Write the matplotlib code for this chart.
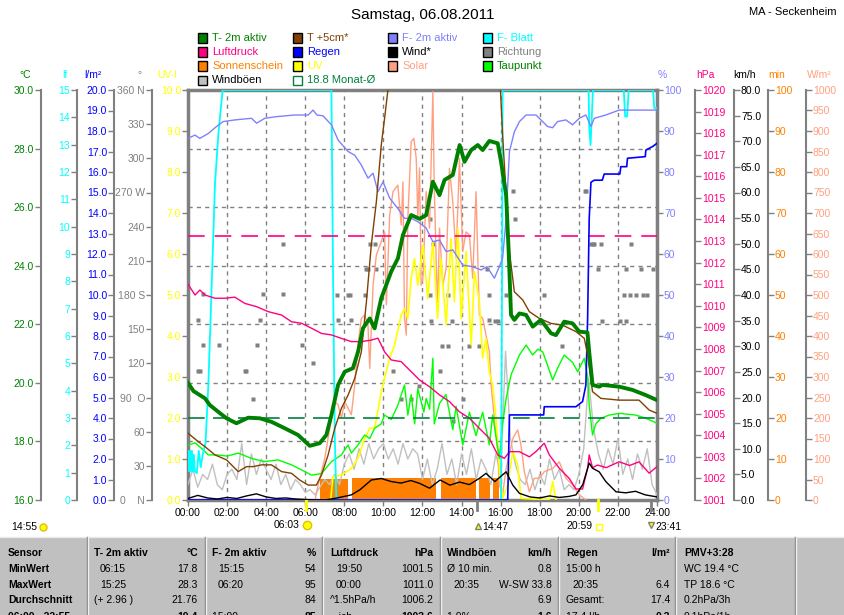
import matplotlib
matplotlib.use('Agg')
import matplotlib.pyplot as plt
from matplotlib.patches import Rectangle

plt.rcParams['font.family'] = ['Liberation Sans', 'DejaVu Sans']

# ---------------- data ----------------
t2m_t = [0, 0.28, 0.87, 1.12, 1.55, 1.97, 2.48, 3.08, 3.68, 4.27, 4.95, 5.63, 6.23, 6.74, 7.08, 7.34, 7.68, 8.02,
         8.44, 8.7, 8.95, 9.3, 9.55, 9.89, 10.4, 10.74, 11.0, 11.42, 11.85, 12.19, 12.53, 12.87, 13.13, 13.55, 13.9,
         14.15, 14.49, 14.83, 15.08, 15.42, 15.85, 16.02, 16.28, 16.41, 16.53, 16.7, 16.96, 17.3, 17.64, 18.06, 18.58,
         18.83, 19.25, 19.68, 20.02, 20.44, 20.53, 20.7, 21.04, 21.21, 22.06, 22.74, 23.43, 24.0]
t2m_v = [20.0, 19.72, 19.47, 19.24, 19.01, 18.79, 18.62, 18.81, 18.79, 18.67, 18.45, 18.22, 17.85, 17.94, 18.22, 18.9,
         19.93, 20.38, 20.5, 21.06, 21.86, 22.2, 21.86, 22.89, 23.8, 24.25, 25.05, 25.73, 25.6, 25.73, 26.87, 26.41,
         26.93, 27.1, 28.12, 27.55, 27.95, 28.12, 27.95, 28.26, 28.18, 27.55, 26.41, 24.48, 22.32, 22.15, 22.37, 22.32,
         21.92, 22.15, 21.69, 21.63, 22.09, 22.03, 21.75, 21.72, 21.06, 19.93, 19.87, 19.93, 19.87, 19.76, 19.58, 19.41]

t5_t = [0, 0.53, 0.87, 1.38, 1.97, 2.57, 3.0, 3.34, 3.76, 4.27, 4.79, 5.3, 5.72, 6.15, 6.57, 6.83, 7.17, 7.51, 7.85,
        8.19, 8.53, 8.87, 9.13, 9.38, 9.64, 9.89, 10.06, 10.23, 10.8, 12.0, 13.0, 14.0, 15.0, 15.8, 15.99, 16.1, 16.28,
        16.45, 16.7, 17.13, 17.47, 17.98, 18.58, 19.17, 19.85, 20.28, 20.45, 20.7, 21.13, 22.06, 23.08, 23.6, 24.0]
t5_v = [18.28, 17.99, 17.82, 17.54, 17.37, 16.97, 17.14, 17.14, 17.2, 17.2, 16.97, 16.91, 16.68, 16.51, 16.51, 16.85,
        17.54, 18.45, 19.13, 19.58, 20.15, 21.06, 22.77, 24.71, 26.19, 28.12, 29.03, 30.0, 32.5, 35.0, 36.5, 37.0, 36.0,
        33.0, 30.0, 28.46, 26.4, 24.48, 23.11, 22.83, 22.43, 22.2, 22.03, 21.97, 21.75, 21.52, 20.95, 19.7, 19.47,
        19.41, 19.41, 19.07, 18.96]

f2_t = [0, 0.36, 0.6, 1.04, 1.46, 1.8, 2.4, 3.25, 3.51, 3.93, 4.53, 5.46, 6.15, 6.4, 6.6, 6.91, 7.34, 7.68, 8.19, 8.53,
        8.87, 9.21, 9.47, 9.72, 9.98, 10.32, 10.74, 11.08, 11.42, 11.76, 12.19, 12.53, 12.87, 13.21, 13.55, 14.06,
        14.57, 15.0, 15.3, 15.68, 15.93, 16.1, 16.28, 16.36, 16.45, 16.7, 16.96, 17.3, 17.81, 18.4, 18.66, 18.91,
        19.34, 19.68, 20.02, 20.36, 20.62, 20.79, 21.38, 22.06, 24.0]
f2_v = [88.2, 89.0, 88.2, 89.4, 91.1, 92.3, 92.7, 93.1, 91.9, 93.1, 93.5, 93.9, 93.9, 95.1, 93.9, 93.7, 91.5, 87.8,
        85.0, 84.1, 81.7, 78.5, 79.7, 75.2, 77.6, 73.6, 71.1, 68.7, 68.7, 67.9, 66.3, 63.0, 63.4, 60.6, 61.0, 57.3,
        56.9, 56.1, 56.9, 54.1, 56.9, 59.0, 68.7, 76.8, 85.0, 89.8, 92.3, 93.9, 93.9, 91.1, 90.8, 92.3, 92.7, 91.5,
        93.1, 93.9, 91.1, 93.1, 93.9, 95.1, 95.1]

fb_t = [0, 0.05, 0.1, 0.15, 0.2, 0.25, 0.3, 0.35, 0.45, 0.55, 0.65, 0.75, 0.9, 1.04, 1.21, 1.38, 1.55, 1.69, 1.77,
        7.34, 7.42, 7.51, 7.59, 16.02, 16.07, 16.1, 20.5, 20.53, 20.6, 20.66, 20.72, 22.3, 22.37, 22.47, 22.55, 23.8,
        23.86, 24.0]
fb_v = [1.8, 1.05, 1.8, 1.05, 1.8, 1.05, 1.65, 1.05, 0.98, 1.8, 1.2, 1.65, 2.1, 4.2, 7.8, 11.55, 13.35, 14.4, 15.0,
        15.0, 8.4, 2.4, 0.0, 0.0, 7.8, 15.0, 15.0, 13.65, 12.99, 13.95, 15.0, 15.0, 14.03, 14.03, 15.0, 15.0, 14.34,
        14.34]

lp_t = [0, 0.36, 0.61, 0.87, 1.38, 1.89, 2.4, 2.91, 3.51, 4.1, 4.79, 5.3, 5.81, 6.32, 6.83, 7.34, 7.85, 8.36, 8.87,
        9.38, 9.72, 10.06, 10.4, 10.91, 11.42, 11.85, 12.36, 12.87, 13.38, 13.89, 14.4, 14.91, 15.42, 15.85, 16.19,
        16.45, 16.96, 17.47, 17.8, 18.23, 18.49, 19.0, 19.51, 19.85, 20.19, 20.45, 20.53, 20.7, 20.96, 21.4, 22.06,
        22.6, 23.08, 23.6, 24.0]
lp_v = [1011.0, 1010.5, 1010.73, 1010.5, 1010.35, 1010.35, 1010.4, 1010.11, 1009.96, 1009.73, 1009.57, 1009.26,
        1009.19, 1008.96, 1008.72, 1008.65, 1008.49, 1008.34, 1008.34, 1008.41, 1008.5, 1007.87, 1007.49, 1007.41,
        1006.95, 1006.56, 1006.25, 1005.87, 1005.56, 1005.09, 1004.79, 1004.32, 1003.86, 1003.09, 1002.93, 1003.24,
        1003.24, 1003.0, 1003.24, 1003.63, 1003.09, 1002.47, 1002.0, 1001.51, 1001.51, 1002.47, 1003.09, 1002.5,
        1002.62, 1002.5, 1002.77, 1002.6, 1002.77, 1002.24, 1002.55]
normal_pressure = 1013.25

rg_t = [0, 16.36, 16.45, 18.2, 18.23, 19.85, 20.19, 20.36, 20.45, 20.53, 20.62, 20.79, 21.2, 21.3, 22.1, 22.15, 22.45,
        22.49, 23.4, 23.43, 23.77, 24.0]
rg_v = [0, 0, 4.15, 4.15, 4.55, 4.55, 4.8, 5.6, 8.86, 13.7, 15.5, 15.6, 15.6, 15.9, 15.9, 16.26, 16.26, 16.67, 16.75,
        17.07, 17.24, 17.4]

wd_t = [0, 0.5, 1, 1.5, 2, 2.5, 3, 3.5, 4, 4.5, 5, 5.5, 6, 6.5, 7, 7.5, 8, 8.36, 8.8, 9.38, 9.89, 10.4, 10.9, 11.4,
        11.85, 12.36, 12.9, 13.4, 13.9, 14.4, 14.9, 15.25, 15.7, 16.28, 16.62, 16.96, 17.5, 18.0, 18.5, 19.0, 19.5,
        19.85, 20.2, 20.53, 20.7, 21.04, 21.38, 21.9, 22.4, 22.9, 23.4, 24.0]
wd_v = [0.3, 0.9, 0.4, 0.2, 0.5, 0.3, 0.8, 1.2, 0.6, 0.3, 0.4, 0.2, 0.1, 0.0, 0.0, 0.3, 0.7, 1.0, 2.0, 3.9, 4.2, 3.6,
        3.3, 3.8, 3.25, 2.3, 3.9, 2.9, 3.5, 3.0, 4.2, 5.2, 3.6, 5.5, 2.9, 1.3, 0.6, 0.4, 0.8, 0.5, 0.7, 1.0, 3.0, 7.2,
        6.2, 5.5, 3.6, 1.6, 1.4, 1.7, 1.0, 0.6]

gu_t = [0, 0.25, 0.5, 0.75, 1.0, 1.25, 1.5, 1.75, 2.0, 2.25, 2.5, 2.75, 3.0, 3.25, 3.5, 3.75, 4.0, 4.25, 4.5, 4.75,
        5.0, 5.25, 5.5, 5.75, 6.0, 6.25, 6.5, 6.75, 7.0, 7.25, 7.5, 7.75, 8.0, 8.25, 8.5, 8.75, 9.0, 9.25, 9.5, 9.75,
        10.0, 10.25, 10.5, 10.75, 11.0, 11.25, 11.5, 11.75, 12.0, 12.25, 12.5, 12.75, 13.0, 13.25, 13.5, 13.75, 14.0,
        14.25, 14.5, 14.75, 15.0, 15.25, 15.5, 15.75, 16.0, 16.25, 16.5, 16.75, 17.0, 17.25, 17.5, 17.75, 18.0, 18.25,
        18.5, 18.75, 19.0, 19.25, 19.5, 19.75, 20.0, 20.25, 20.5, 20.75, 21.0, 21.25, 21.5, 21.75, 22.0, 22.25, 22.5,
        22.75, 23.0, 23.25, 23.5, 23.75, 24.0]
gu_v = [3, 6, 2.5, 5, 4, 7, 3, 2, 5, 6, 4, 11, 3, 9, 5, 8, 6, 4, 7, 3,
        5, 2, 4, 3, 1.5, 2, 1, 2.5, 4, 3, 5, 3, 7, 9, 6, 10, 7, 11, 8, 10,
        11, 8, 10, 7, 11, 8, 10, 9, 4, 8, 3, 6, 11, 5, 8, 3, 9,
        5, 10, 4, 8, 6, 3, 9, 5, 29, 12, 7, 4, 3, 6, 2, 5, 3,
        8, 4, 6, 2, 3, 2, 5, 10, 23.7, 14, 9, 6, 10, 7, 12, 5, 8,
        4, 9, 6, 10, 3, 1]

tp_t = [0, 0.36, 0.7, 1.04, 1.5, 2.0, 2.57, 3.25, 3.93, 4.6, 5.3, 5.98, 6.32, 6.83, 7.34, 7.85, 8.19, 8.36, 8.7, 9.04,
        9.3, 9.55, 9.89, 10.06, 10.4, 10.74, 11.08, 11.25, 11.42, 11.6, 11.76, 12.07, 12.19, 12.36, 12.53, 12.6, 12.87,
        13.2, 13.55, 13.72, 14.06, 14.4, 14.74, 15.08, 15.42, 15.59, 15.93, 16.1, 16.28, 16.53, 16.96, 17.3, 17.64,
        17.9, 18.15, 18.4, 18.66, 18.91, 19.25, 19.68, 19.94, 20.28, 20.45, 20.53, 20.7, 20.87, 21.13, 21.55, 22.06,
        22.9, 23.4, 24.0]
tp_v = [17.88, 17.95, 17.76, 17.54, 17.54, 17.5, 17.6, 17.42, 17.31, 17.37, 17.2, 16.97, 16.85, 16.9, 17.31, 17.54,
        17.88, 17.6, 17.88, 18.22, 18.1, 18.45, 18.6, 18.9, 18.75, 19.24, 19.93, 18.9, 19.6, 18.6, 19.8, 19.0, 19.47,
        19.1, 20.84, 18.6, 19.3, 19.6, 18.4, 19.2, 17.88, 19.0, 18.2, 19.0, 17.88, 18.9, 17.42, 18.6, 19.47, 20.27,
        20.95, 21.29, 20.95, 21.15, 21.06, 20.6, 20.1, 20.5, 20.95, 20.7, 20.38, 20.84, 20.2, 19.24, 18.22, 18.6,
        18.79, 18.9, 18.96, 18.9, 18.8, 18.62]
month_mean = 18.8

so_t = [6.5, 6.66, 7.0, 7.34, 7.51, 7.68, 7.85, 8.02, 8.36, 8.53, 8.7, 8.87, 9.04, 9.21, 9.3, 9.47, 9.64, 9.89, 10.06,
        10.15, 10.32, 10.49, 10.74, 10.91, 11.0, 11.08, 11.17, 11.25, 11.42, 11.56, 11.68, 11.76, 11.85, 11.93, 12.02,
        12.19, 12.36, 12.53, 12.6, 12.77, 12.87, 13.04, 13.21, 13.38, 13.55, 13.72, 13.89, 14.06, 14.23, 14.4, 14.57,
        14.74, 14.91, 15.08, 15.25, 15.42, 15.51, 15.68, 15.85, 15.93, 16.1, 16.28, 16.62, 16.87, 17.04, 17.21, 17.47,
        17.72, 17.98, 18.23, 18.66, 19.0, 19.34, 19.68, 20.02, 20.36]
so_v = [0, 37, 102, 200, 240, 232, 200, 240, 208, 280, 378, 443, 451, 427, 321, 524, 598, 630, 654,
        476, 695, 752, 768, 671, 776, 443, 402, 687, 874, 882, 833, 687, 810, 524, 541,
        752, 663, 996, 768, 459, 663, 524, 565, 809, 727, 590, 833, 606, 654, 646, 541,
        752, 451, 443, 402, 362, 280, 199, 118, 37, 13, 77, 150, 171, 134, 69, 20,
        53, 53, 69, 77, 93, 53, 37, 13, 0]

uv_t = [7.3, 7.42, 7.85, 8.36, 8.7, 9.04, 9.3, 9.55, 9.89, 10.06, 10.32, 10.57, 10.91, 11.08, 11.25, 11.42, 11.59,
        11.76, 12.02, 12.27, 12.53, 12.77, 12.94, 13.21, 13.46, 13.63, 13.81, 13.98, 14.23, 14.49, 14.66, 14.91, 15.08,
        15.25, 15.42, 15.59, 15.76, 15.93, 16.1, 16.36, 16.62, 16.87, 17.04, 18.49, 18.66, 18.83]
uv_v = [0, 0.57, 0.61, 0.77, 1.02, 1.5, 1.75, 1.75, 2.64, 2.97, 3.46, 3.78, 4.51, 4.67, 4.43, 5.41, 5.89,
        5.24, 6.22, 4.92, 6.3, 4.43, 5.89, 4.27, 6.38, 4.84, 6.63, 4.43, 6.06, 3.78, 5.57, 4.84, 3.46,
        3.94, 3.13, 2.8, 1.99, 0.77, 0.04, 0.37, 1.18, 0.85, 0.04, 0, 0.45, 0]

sun_start = [6.74, 8.38, 12.97, 14.88, 15.63]
sun_end = [8.17, 12.7, 14.74, 15.46, 15.93]
sun_min = [5.2, 5.3, 5.3, 5.3, 5.3]

dir_t = [0.53, 0.78, 0.53, 0.61, 0.78, 1.6, 2.91, 2.98, 3.34, 3.51, 3.68, 3.85, 4.87, 4.87, 5.81, 6.4, 7.6, 7.68,
         8.19, 8.27, 8.36, 9.04, 9.13, 9.21, 9.3, 9.55, 9.64, 10.49, 10.91, 11.4, 11.8, 12.36, 12.36, 12.44, 12.52,
         12.87, 13.0, 13.28, 13.3, 13.5, 13.55, 14.06, 14.4, 14.9, 15.32, 15.42, 15.42, 15.7, 15.85, 16.28, 16.65,
         16.75, 18.2, 19.16, 20.3, 20.38, 20.62, 20.7, 20.8, 20.96, 21.13, 21.2, 22.1, 22.3, 22.4, 22.4, 22.6, 22.66,
         22.9, 23.2, 23.3, 23.5, 23.77]
dir_v = [158, 136, 113, 113, 181, 136, 113, 113, 89, 136, 158, 181, 225, 181, 136, 120, 180, 158,
         180, 180, 158, 180, 203, 203, 225, 225, 203, 113, 89, 89, 100, 247, 180, 157, 225,
         113, 135, 180, 135, 157, 69, 89, 135, 135, 203, 180, 158, 157, 157, 180, 271,
         247, 180, 135, 271, 271, 225, 225, 225, 203, 225, 157, 157, 180, 203, 157, 180, 225,
         180, 203, 180, 180, 203]

# ---------------- style ----------------
GRAY = '#808080'
C_T2 = '#008000'; C_T5 = '#804000'; C_F2 = '#8080FF'; C_FB = '#00FFFF'
C_LP = '#FF0080'; C_RG = '#0000FF'; C_WD = '#000000'; C_DIR = '#808080'
C_SUN = '#FF8000'; C_UV = '#FFFF00'; C_SO = '#FFA080'; C_TP = '#00FF00'
C_GU = '#C0C0C0'; C_MM = '#008040'

W_PX, H_PX = 845, 615
fig = plt.figure(figsize=(W_PX / 100, H_PX / 100), dpi=100)
fig.patch.set_facecolor('white')

def fx(x):
    return x / W_PX

def fy(y):
    return 1 - y / H_PX

X0, X1, Y0, Y1 = 188, 657, 90, 500
ax = fig.add_axes([fx(X0), fy(Y1), (X1 - X0) / W_PX, (Y1 - Y0) / H_PX])
ax.set_xlim(0, 24)
ax.set_ylim(0, 10)

def apos(px):
    return (px - X0) / (X1 - X0)

FS = 7.5

def disp_axis(ylim, px, side, ticks, labels, color):
    a = ax.twinx()
    a.set_xlim(0, 24)
    a.set_ylim(*ylim)
    for s in a.spines.values():
        s.set_visible(False)
    sp = a.spines[side]
    sp.set_visible(True)
    sp.set_position(('axes', apos(px)))
    sp.set_color(GRAY)
    sp.set_linewidth(1.5)
    if side == 'left':
        a.yaxis.tick_left()
    else:
        a.yaxis.tick_right()
    a.set_yticks(ticks)
    a.set_yticklabels(labels)
    a.tick_params(axis='y', color=GRAY, labelcolor=color, length=4, width=1, pad=1, labelsize=FS)
    return a

def data_axis(ylim):
    a = ax.twinx()
    a.set_xlim(0, 24)
    a.set_ylim(*ylim)
    for s in a.spines.values():
        s.set_visible(False)
    a.set_yticks([])
    a.patch.set_visible(False)
    return a

# main axis: UV scale on the frame
for s in ax.spines.values():
    s.set_color(GRAY)
    s.set_linewidth(2.5)
ax.set_yticks(range(0, 11))
ax.set_yticklabels([f'{v:.1f}' for v in range(0, 11)])
ax.tick_params(axis='y', color=GRAY, labelcolor=C_UV, length=4, width=1, pad=1, labelsize=FS)
ax.set_xticks(range(0, 25, 2))
ax.set_xticklabels([f'{h:02d}:00' for h in range(0, 25, 2)])
ax.tick_params(axis='x', color=GRAY, labelcolor='black', length=4, width=1, pad=2, labelsize=FS)
for h in range(2, 24, 2):
    ax.axvline(h, color=GRAY, lw=1, ls=(0, (3, 3)), zorder=0.5)

# display axes
at = disp_axis((16, 30), 40.7, 'left', list(range(16, 31, 2)), [f'{v:.1f}' for v in range(16, 31, 2)], C_T2)
for v in range(18, 30, 2):
    at.axhline(v, color=GRAY, lw=1, ls=(0, (3, 3)))
disp_axis((0, 15), 77, 'left', list(range(0, 16)), [str(v) for v in range(0, 16)], C_FB)
disp_axis((0, 20), 114, 'left', list(range(0, 21)), [f'{v:.1f}' for v in range(0, 21)], C_RG)
deg_ticks = list(range(0, 361, 30))
deg_names = {0: '0    N', 90: '90  O', 180: '180 S', 270: '270 W', 360: '360 N'}
disp_axis((0, 360), 152, 'left', deg_ticks, [deg_names.get(d, str(d)) for d in deg_ticks], GRAY)
disp_axis((0, 100), 657, 'right', list(range(0, 101, 10)), [str(v) for v in range(0, 101, 10)], C_F2)
disp_axis((1001, 1020), 695, 'right', list(range(1001, 1021)), [str(v) for v in range(1001, 1021)], C_LP)
disp_axis((0, 80), 734, 'right', list(range(0, 81, 5)), [f'{v:.1f}' for v in range(0, 81, 5)], 'black')
disp_axis((0, 100), 768, 'right', list(range(0, 101, 10)), [str(v) for v in range(0, 101, 10)], C_SUN)
disp_axis((0, 1000), 806, 'right', list(range(0, 1001, 50)), [str(v) for v in range(0, 1001, 50)], C_SO)

# data axes in drawing order
a_sun = data_axis((0, 100))
a_sun.bar(sun_start, sun_min, width=[e - s for s, e in zip(sun_start, sun_end)],
          align='edge', color=C_SUN, edgecolor='none')
a_dir = data_axis((0, 360))
a_dir.plot(dir_t, dir_v, ls='none', marker='s', ms=2.2, color=C_DIR, mec='none')
a_gu = data_axis((0, 80))
a_gu.plot(gu_t, gu_v, color=C_GU, lw=1)
a_so = data_axis((0, 1000))
a_so.plot(so_t, so_v, color=C_SO, lw=1)
a_uv = data_axis((0, 10))
a_uv.plot(uv_t, uv_v, color=C_UV, lw=1.2)
a_tp = data_axis((16, 30))
a_tp.plot(tp_t, tp_v, color=C_TP, lw=1)
a_fb = data_axis((0, 15))
a_fb.plot(fb_t, fb_v, color=C_FB, lw=1.3)
a_f2 = data_axis((0, 100))
a_f2.plot(f2_t, f2_v, color=C_F2, lw=1)
a_lp = data_axis((1001, 1020))
a_lp.axhline(normal_pressure, color=C_LP, lw=1.2, ls=(0, (10, 6)))
a_lp.plot(lp_t, lp_v, color=C_LP, lw=1)
a_rg = data_axis((0, 20))
a_rg.plot(rg_t, rg_v, color=C_RG, lw=1.2)
a_wd = data_axis((0, 80))
a_wd.plot(wd_t, wd_v, color=C_WD, lw=1)
a_t = data_axis((16, 30))
a_t.axhline(month_mean, color=C_MM, lw=1.2, ls=(0, (10, 5)))
a_t.plot(t5_t, t5_v, color=C_T5, lw=1)
a_t.plot(t2m_t, t2m_v, color=C_T2, lw=2.8)

# astronomical ticks below the axis
astro_t = [6.05, 20.983, 14.783, 23.683]
astro_c = ['#FFFF00', '#FFFF00', GRAY, GRAY]
for t, c in zip(astro_t, astro_c):
    ax.plot([t, t], [0, -0.024], transform=ax.get_xaxis_transform(), clip_on=False, color=c, lw=2, zorder=5)

# ---------------- texts ----------------
fig.text(fx(423), fy(15), 'Samstag, 06.08.2011', ha='center', va='center', fontsize=11)
fig.text(fx(837), fy(12), 'MA - Seckenheim', ha='right', va='center', fontsize=8)

units = [(25, '°C', C_T2), (65, 'lf', C_FB), (93, 'l/m²', C_RG), (139, '°', GRAY), (167, 'UV-I', C_UV),
         (662, '%', C_F2), (705, 'hPa', C_LP), (745, 'km/h', 'black'), (777, 'min', C_SUN), (819, 'W/m²', C_SO)]
for x, s, c in units:
    fig.text(fx(x), fy(75), s, ha='center', va='center', fontsize=FS, color=c)

legend = [
    (198, 38, 'T- 2m aktiv', C_T2, C_T2, False), (198, 52, 'Luftdruck', C_LP, C_LP, False),
    (198, 66, 'Sonnenschein', C_SUN, C_SUN, False), (198, 80, 'Windböen', C_GU, 'black', False),
    (293, 38, 'T +5cm*', C_T5, C_T5, False), (293, 52, 'Regen', C_RG, C_RG, False),
    (293, 66, 'UV', C_UV, C_UV, False), (293, 80, '18.8 Monat-Ø', 'white', C_MM, True),
    (388, 38, 'F- 2m aktiv', C_F2, C_F2, False), (388, 52, 'Wind*', C_WD, 'black', False),
    (388, 66, 'Solar', C_SO, C_SO, False),
    (483, 38, 'F- Blatt', C_FB, C_FB, False), (483, 52, 'Richtung', C_DIR, GRAY, False),
    (483, 66, 'Taupunkt', C_TP, C_T2, False),
]
for x, y, s, fc, tc, hollow in legend:
    ec = C_MM if hollow else 'black'
    fig.add_artist(Rectangle((fx(x), fy(y + 4.5)), 9 / W_PX, 9 / H_PX, transform=fig.transFigure,
                             facecolor=fc, edgecolor=ec, lw=1))
    fig.text(fx(x + 14), fy(y), s, ha='left', va='center', fontsize=8, color=tc)

# sun / moon times
fig.text(fx(11), fy(527), '14:55', ha='left', va='center', fontsize=FS)
fig.add_artist(plt.Line2D([fx(43)], [fy(527)], marker='o', ms=5, color='#FFFF00', mec='#E0C000',
                          transform=fig.transFigure))
fig.text(fx(299), fy(525), '06:03', ha='right', va='center', fontsize=FS)
fig.add_artist(plt.Line2D([fx(307)], [fy(525)], marker='o', ms=6, color='#FFFF00', mec='#E0C000',
                          transform=fig.transFigure))
fig.text(fx(482), fy(527), '14:47', ha='left', va='center', fontsize=FS)
fig.add_artist(plt.Line2D([fx(478)], [fy(526)], marker='^', ms=5, color='#FFFF00', mec=GRAY,
                          transform=fig.transFigure))
fig.text(fx(593), fy(526), '20:59', ha='right', va='center', fontsize=FS)
fig.add_artist(plt.Line2D([fx(599)], [fy(527)], marker='s', ms=4, color='white', mec='#FFFF00',
                          transform=fig.transFigure))
fig.text(fx(655), fy(527), '23:41', ha='left', va='center', fontsize=FS)
fig.add_artist(plt.Line2D([fx(651)], [fy(525)], marker='v', ms=5, color='#FFFF00', mec=GRAY,
                          transform=fig.transFigure))

# ---------------- table ----------------
TAB_TOP = 537
fig.add_artist(Rectangle((0, 0), 1, fy(TAB_TOP), transform=fig.transFigure, facecolor='#C0C0C0',
                         edgecolor='none'))
fig.add_artist(plt.Line2D([0, 1], [fy(TAB_TOP), fy(TAB_TOP)], color='#E8E8E8', lw=1, transform=fig.transFigure))
for x in [87, 205, 322, 440, 558, 675, 795]:
    fig.add_artist(plt.Line2D([fx(x), fx(x)], [0, fy(TAB_TOP)], color='#808080', lw=1, transform=fig.transFigure))
    fig.add_artist(plt.Line2D([fx(x + 1), fx(x + 1)], [0, fy(TAB_TOP)], color='#F0F0F0', lw=1,
                              transform=fig.transFigure))

row_y = [553, 569, 585, 600, 617]
row_head = ['Sensor', 'MinWert', 'MaxWert', 'Durchschnitt', '06:00 - 22:55']
for y, s in zip(row_y, row_head):
    fig.text(fx(8), fy(y), s, ha='left', va='center', fontsize=FS, fontweight='bold')

columns = [
    (94, 198, 'T- 2m aktiv', '°C', [('06:15', '17.8'), ('15:25', '28.3'), ('(+ 2.96 )', '21.76'), ('', '19.4')]),
    (212, 316, 'F- 2m aktiv', '%', [('15:15', '54'), ('06:20', '95'), ('', '84'), ('15:00 ...', '85')]),
    (330, 433, 'Luftdruck', 'hPa', [('19:50', '1001.5'), ('00:00', '1011.0'), ('^1.5hPa/h', '1006.2'),
                                    ('...ich', '1003.6')]),
    (447, 552, 'Windböen', 'km/h', [('Ø 10 min.', '0.8'), ('20:35', 'W-SW 33.8'), ('', '6.9'), ('1.9% ...', '1.6')]),
    (566, 670, 'Regen', 'l/m²', [('15:00 h', ''), ('20:35', '6.4'), ('Gesamt:', '17.4'), ('17.4 l/h', '0.3')]),
    (684, 790, 'PMV+3:28', '', [('WC 19.4 °C', ''), ('TP 18.6 °C', ''), ('0.2hPa/3h', ''), ('0.1hPa/1h', '')]),
]
for xl, xr, hl, hr, rows in columns:
    fig.text(fx(xl), fy(row_y[0]), hl, ha='left', va='center', fontsize=FS, fontweight='bold')
    fig.text(fx(xr), fy(row_y[0]), hr, ha='right', va='center', fontsize=FS, fontweight='bold')
    for i, (l, r) in enumerate(rows):
        y = row_y[i + 1]
        indent = 6 if (l[:1].isdigit() and i < 2 and xl != 566) else 0
        if xl == 566 and i == 1:
            indent = 6
        bold = 'bold' if i == 3 else 'normal'
        fig.text(fx(xl + indent), fy(y), l, ha='left', va='center', fontsize=FS)
        fig.text(fx(xr), fy(y), r, ha='right', va='center', fontsize=FS, fontweight=bold)

fig.savefig('out.png', dpi=100)
